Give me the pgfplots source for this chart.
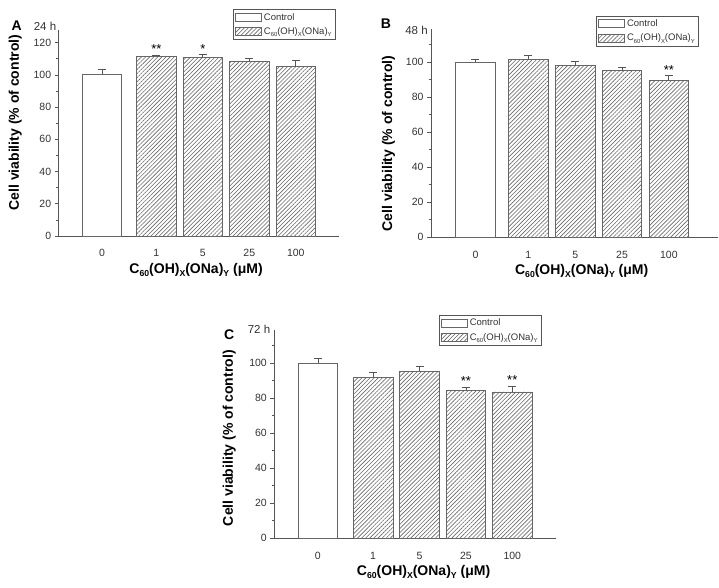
\documentclass[border=0pt]{standalone}
\usepackage{fontspec}
\setmainfont{Liberation Sans}
\usepackage{pgfplots}
\usepackage{pgfplotstable}
\pgfplotsset{compat=1.18}
\usetikzlibrary{patterns.meta}

\definecolor{axgray}{HTML}{555555}
\definecolor{txtgray}{HTML}{333333}
\definecolor{bargray}{HTML}{666666}

% columns: x position, mean, upper error
\pgfplotstableread{
x y e
-0.17 100.2 3.1
}\ctlA
\pgfplotstableread{
x y e
1 111.6 0.8
2 110.7 1.8
3 108.5 1.9
4 105.0 4.3
}\trtA
\pgfplotstableread{
x y e
-0.13 99.8 1.5
}\ctlB
\pgfplotstableread{
x y e
1 101.7 2.1
2 97.9 2.3
3 95.0 1.8
4 89.7 2.5
}\trtB
\pgfplotstableread{
x y e
-0.19 100.0 2.9
}\ctlC
\pgfplotstableread{
x y e
1 92.0 2.7
2 95.2 2.9
3 84.4 1.9
4 83.5 3.2
}\trtC

\newcommand{\sub}[1]{\raisebox{-0.45ex}{\scalebox{0.62}{#1}}}
\newcommand{\cmpd}{C\sub{60}(OH)\sub{X}(ONa)\sub{Y}}

\pgfplotsset{
  panel/.style={
    scale only axis, clip=false,
    axis x line*=bottom, axis y line*=left,
    axis line style={-, draw=axgray, line width=0.7pt},
    ymin=0,
    ybar, bar width=39.5pt, bar shift=0pt,
    xtick style={draw=none},
    ytick style={draw=axgray, line width=0.6pt},
    minor y tick style={draw=axgray, line width=0.6pt},
    tick align=outside,
    major tick length=4pt, minor tick length=2.5pt,
    tick label style={font=\fontsize{10.5}{12}\selectfont, text=txtgray},
    /pgf/number format/assume math mode=true,
    xticklabels={0,1,5,25,100},
    xticklabel style={yshift=-6pt},
    ylabel={Cell viability (\% of control)},
    xlabel={\cmpd{} (μM)},
    label style={font=\fontsize{14}{16}\selectfont\bfseries, text=black, anchor=center},
    legend style={draw=axgray, line width=0.6pt, font=\fontsize{9.5}{10}\selectfont,
      text=txtgray, inner xsep=2pt, inner ysep=1.5pt, row sep=2pt},
    legend cell align=left,
  },
  errs/.style={
    /pgfplots/error bars/y dir=plus, /pgfplots/error bars/y explicit,
    /pgfplots/error bars/error bar style={draw=axgray, line width=0.8pt},
    /pgfplots/error bars/error mark options={rotate=90, mark size=4pt, draw=axgray, line width=0.8pt}},
  lgbox/.style={legend image code/.code={\draw[##1, line width=0.6pt] (0pt,-4pt) rectangle (26pt,4pt);}},
  ctl/.style={fill=white, draw=bargray, line width=0.7pt, errs, lgbox},
  trt/.style={draw=bargray, line width=0.7pt,
    pattern={Lines[angle=45, distance=2.9pt, line width=0.6pt]}, pattern color=bargray, errs, lgbox},
}

\begin{document}
\begin{tikzpicture}
\useasboundingbox (0,0) rectangle (719pt,588pt);

% Panel A (24 h)
\begin{axis}[panel, name=A,
  at={(58.7pt,352pt)}, anchor=south west,
  width=280.3pt, height=206.2pt,
  xmin=-1.1, xmax=4.93, ymax=128,
  xtick={-0.17,1,2,3,4},
  ytick={0,20,...,120}, minor ytick={10,30,...,110},
  ylabel style={at={(axis description cs:-0.155,0.55)}},
  xlabel style={at={(axis description cs:0.49,-0.165)}},
  legend style={at={(axis description cs:0.989,1.099)}, anchor=north east},
]
\addplot[ctl] table[x=x, y=y, y error=e] {\ctlA};
\addlegendentry{Control}
\addplot[trt] table[x=x, y=y, y error=e] {\trtA};
\addlegendentry{\cmpd}
\node[anchor=base, inner sep=0, font=\fontsize{13}{14}\selectfont] at (axis cs:1,113.3) {**};
\node[anchor=base, inner sep=0, font=\fontsize{13}{14}\selectfont] at (axis cs:2,113.3) {*};
\end{axis}
\node[font=\fontsize{14}{16}\selectfont\bfseries] at (16.7pt,562pt) {A};
\node[font=\fontsize{11.5}{13}\selectfont, text=txtgray] at (45pt,562pt) {24 h};

% Panel B (48 h)
\begin{axis}[panel, name=B,
  at={(431pt,350.7pt)}, anchor=south west,
  width=287pt, height=208.6pt,
  xmin=-1.08, xmax=5.05, ymax=119,
  xtick={-0.13,1,2,3,4},
  ytick={0,20,...,100}, minor ytick={10,30,...,110},
  ylabel style={at={(axis description cs:-0.148,0.45)}},
  xlabel style={at={(axis description cs:0.525,-0.16)}},
  legend style={at={(axis description cs:0.934,1.062)}, anchor=north east},
]
\addplot[ctl] table[x=x, y=y, y error=e] {\ctlB};
\addlegendentry{Control}
\addplot[trt] table[x=x, y=y, y error=e] {\trtB};
\addlegendentry{\cmpd}
\node[anchor=base, inner sep=0, font=\fontsize{13}{14}\selectfont] at (axis cs:4,93) {**};
\end{axis}
\node[font=\fontsize{14}{16}\selectfont\bfseries] at (386pt,564pt) {B};
\node[font=\fontsize{11.5}{13}\selectfont, text=txtgray] at (416.5pt,557.3pt) {48 h};

% Panel C (72 h)
\begin{axis}[panel, name=C,
  at={(274.3pt,49.7pt)}, anchor=south west,
  width=281.6pt, height=208.6pt,
  xmin=-1.13, xmax=4.94, ymax=119,
  xtick={-0.19,1,2,3,4},
  ytick={0,20,...,100}, minor ytick={10,30,...,110},
  ylabel style={at={(axis description cs:-0.16,0.48)}},
  xlabel style={at={(axis description cs:0.53,-0.162)}},
  legend style={at={(axis description cs:0.95,1.07)}, anchor=north east},
]
\addplot[ctl] table[x=x, y=y, y error=e] {\ctlC};
\addlegendentry{Control}
\addplot[trt] table[x=x, y=y, y error=e] {\trtC};
\addlegendentry{\cmpd}
\node[anchor=base, inner sep=0, font=\fontsize{13}{14}\selectfont] at (axis cs:3,87.1) {**};
\node[anchor=base, inner sep=0, font=\fontsize{13}{14}\selectfont] at (axis cs:4,87.5) {**};
\end{axis}
\node[font=\fontsize{14}{16}\selectfont\bfseries] at (229.3pt,253pt) {C};
\node[font=\fontsize{11.5}{13}\selectfont, text=txtgray] at (259pt,258.7pt) {72 h};
\end{tikzpicture}
\end{document}
